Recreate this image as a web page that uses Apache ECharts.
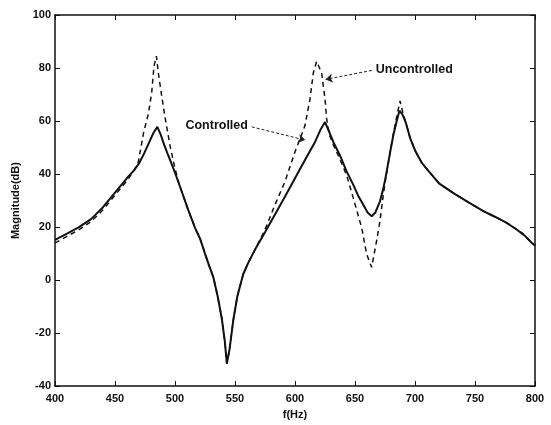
<!DOCTYPE html>
<html lang="en">
<head>
    <meta charset="UTF-8">
    <title>Magnitude vs frequency</title>
    <script src="https://cdn.jsdelivr.net/npm/echarts@6/dist/echarts.min.js"></script>
    <style>
        html, body { margin: 0; padding: 0; background: #fff; }
    </style>
</head>
<body>
    <div id="main" style="width: 551px;height: 425px;"></div>

    <script type="text/javascript">
        // frequency (Hz) and magnitude (dB)
        var fControlled = [400, 410, 420, 430, 440, 450, 460, 466, 470, 474, 478, 482, 485.3, 488, 491, 494.4, 500, 505.6, 511, 516.7,
            521, 525, 528, 532, 535.5, 539, 541.5, 543.2, 545.5, 548.6, 552, 556.9, 561, 566.7, 575, 583.3, 591.7, 600, 608.3, 616.7,
            621, 625, 628, 632, 637.5, 643, 648.6, 653, 656.9, 660.5, 663.9, 667, 670.8, 673.6, 676.4, 679, 681.9, 684.5, 687, 689.5,
            692.2, 696, 700.6, 706, 711.7, 720, 732, 745, 757, 767, 776.4, 785, 792, 797.2, 800];
        var magControlled = [15.2, 17.5, 20, 23, 27.5, 33, 38.5, 41.5, 44, 47.5, 51.5, 55.5, 57.8, 55, 51, 47, 40.5, 33.4, 26.5, 19.7,
            15.5, 10, 6, 1, -6, -14.5, -23, -31.5, -26, -15, -6, 2.3, 6.5, 11.5, 18, 24.7, 31.5, 38.4, 45.3, 52.1,
            56.5, 59.6, 56.5, 52, 47, 41, 35.9, 31.5, 28.4, 25.5, 24.1, 25.5, 29.7, 34.5, 40.9, 47.5, 54.6, 59.5, 63.9, 62.5,
            59.6, 53.5, 48.4, 44, 40.9, 36.5, 32.8, 29.2, 26, 23.8, 21.6, 19, 16.5, 14.1, 13];

        var fUncontrolled = [400, 410, 420, 430, 440, 450, 460, 466, 469.4, 472, 474, 477.8, 480.6, 482.5, 484.5, 486.1, 488.9, 491.7, 495.8, 500,
            503, 505.6, 511, 516.7, 521, 525, 528, 532, 535.5, 539, 541.5, 543.2, 545.5, 548.6, 552, 556.9, 561, 566.7, 575, 583.3,
            591.7, 600, 604, 608.3, 612.5, 615.3, 618, 622.2, 625, 626.4, 628.5, 632, 637.5, 643, 648.6, 652, 655.6, 659.7, 663.9, 668,
            670.8, 673.6, 676.4, 679, 681.9, 684.5, 687.5, 690, 692.2, 696, 700.6, 706, 711.7, 720, 732, 745, 757, 767, 776.4, 785,
            790, 793, 797.2, 800];
        var magUncontrolled = [14, 16.5, 19, 22, 26.5, 32, 37.5, 41.5, 44.5, 51, 56, 62.7, 70.8, 80.7, 84.5, 78.2, 69.5, 61.4, 50.8, 42.1,
            37, 33.4, 26.5, 19.7, 15.5, 10, 6, 1, -6, -14.5, -23, -31.5, -26, -15, -6, 2.3, 6.5, 11.5, 19, 28.4,
            37.2, 48.4, 53, 58.3, 68.3, 78.2, 82.5, 78.2, 68.3, 60.8, 55, 51, 45.5, 39.6, 30.9, 25.5, 19.7, 9.8, 4.8, 14.8,
            22.3, 32.2, 40.5, 47.5, 55, 61, 67.6, 63, 59.6, 53.5, 48.4, 44, 40.9, 36.5, 32.8, 29.2, 26, 23.8, 21.6, 19,
            17.5, 16, 14, 13];

        // annotation arrows: [text, start [f, dB], tip [f, dB]]
        var notes = [
            ['Controlled', [564, 57.8], [608.5, 52.8]],
            ['Uncontrolled', [664, 79.1], [625.5, 75.7]]
        ];

        function pairs(xs, ys) {
            var out = [];
            for (var i = 0; i < xs.length; i++) out.push([xs[i], ys[i]]);
            return out;
        }

        var labelFont = { color: '#111', fontFamily: 'Liberation Sans', fontWeight: 'bold', fontSize: 11 };
        var noteFont = { color: '#111', fontFamily: 'Liberation Sans', fontWeight: 'bold', fontSize: 12.5 };
        var tickStyle = { show: true, inside: true, length: 5, lineStyle: { color: '#111', width: 1 } };
        var lineAx = { show: true, onZero: false, lineStyle: { color: '#111', width: 1.5 } };

        var myChart = echarts.init(document.getElementById('main'), null, { renderer: 'canvas' });
        var option = {
            backgroundColor: '#fff',
            animation: false,
            grid: { left: 55, right: 16, top: 15, bottom: 35 },
            xAxis: [{
                type: 'value', min: 400, max: 800, interval: 50,
                name: 'f(Hz)', nameLocation: 'middle', nameGap: 19,
                nameTextStyle: labelFont,
                axisLine: lineAx, axisTick: tickStyle, splitLine: { show: false },
                axisLabel: Object.assign({ margin: 7 }, labelFont)
            }, {
                type: 'value', position: 'top', min: 400, max: 800, interval: 50,
                axisLine: lineAx, axisTick: tickStyle, splitLine: { show: false },
                axisLabel: { show: false }
            }],
            yAxis: [{
                type: 'value', min: -40, max: 100, interval: 20,
                name: 'Magnitude(dB)', nameLocation: 'middle', nameGap: 24,
                nameTextStyle: labelFont,
                axisLine: lineAx, axisTick: tickStyle, splitLine: { show: false },
                axisLabel: Object.assign({ margin: 4 }, labelFont)
            }, {
                type: 'value', position: 'right', min: -40, max: 100, interval: 20,
                axisLine: lineAx, axisTick: tickStyle, splitLine: { show: false },
                axisLabel: { show: false }
            }],
            series: [{
                name: 'Uncontrolled',
                type: 'line',
                showSymbol: false,
                data: pairs(fUncontrolled, magUncontrolled),
                lineStyle: { color: '#111', width: 1.5, type: [5, 4] }
            }, {
                name: 'Controlled',
                type: 'line',
                showSymbol: false,
                data: pairs(fControlled, magControlled),
                lineStyle: { color: '#111', width: 2 },
                markLine: {
                    silent: true,
                    symbol: ['none', 'arrow'],
                    symbolSize: 7,
                    lineStyle: { color: '#222', width: 1, type: [3, 2] },
                    label: Object.assign({ show: true, position: 'start', distance: 4 }, noteFont),
                    data: notes.map(function (n) {
                        return [{ coord: n[1], name: n[0], label: { formatter: n[0] } }, { coord: n[2] }];
                    })
                }
            }]
        };
        myChart.setOption(option);
    </script>
</body>
</html>
